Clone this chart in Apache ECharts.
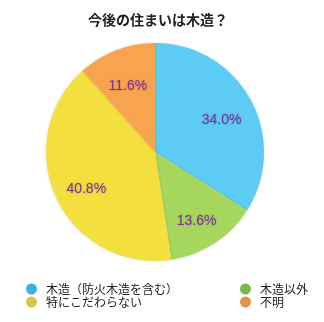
<!DOCTYPE html>
<html>
<head>
<meta charset="utf-8">
<script src="https://cdn.jsdelivr.net/npm/echarts@6/dist/echarts.min.js"></script>
<style>
  html, body { margin: 0; padding: 0; background: #fff; }
  #chart { width: 324px; height: 322px; }
</style>
</head>
<body>
<div id="chart"></div>
<script>
// Survey result: preferred construction for the next home
const categories = ['木造（防火木造を含む）', '木造以外', '特にこだわらない', '不明'];
const shares = [34.0, 13.6, 40.8, 11.6];
const sliceColors = ['#5ccbf6', '#a4d75b', '#f3df3d', '#f8a44f'];
const legendColors = ['#45acdf', '#79b84a', '#d9c73f', '#e59347'];

const FONT = '"Noto Sans CJK JP", "Noto Sans", sans-serif';
const NUM_FONT = '"Liberation Sans", Arial, sans-serif';

const sliceData = categories.map((name, i) => ({
  name,
  value: shares[i],
  itemStyle: { color: sliceColors[i] }
}));

const legendItem = i => ({
  name: categories[i],
  itemStyle: { color: legendColors[i] }
});

const legendBase = {
  orient: 'vertical',
  icon: 'circle',
  itemWidth: 11,
  itemHeight: 11,
  itemGap: 1,
  selectedMode: false,
  textStyle: { fontFamily: FONT, fontSize: 12, lineHeight: 12, color: '#222', padding: [0, 0, 0, 4] }
};

const chart = echarts.init(document.getElementById('chart'), null, { renderer: 'canvas' });
chart.setOption({
  animation: false,
  title: {
    text: '今後の住まいは木造？',
    left: 153,
    textAlign: 'center',
    top: 8,
    textStyle: { fontFamily: FONT, fontSize: 14, fontWeight: 'bold', color: '#222' }
  },
  legend: [
    Object.assign({}, legendBase, { left: 21, top: 278, data: [legendItem(0), legendItem(2)] }),
    Object.assign({}, legendBase, { left: 235, top: 278, data: [legendItem(1), legendItem(3)] })
  ],
  series: [
    {
      type: 'pie',
      center: [155, 152],
      radius: [0, 109],
      startAngle: 90,
      clockwise: true,
      silent: true,
      data: sliceData,
      itemStyle: {
        borderWidth: 0,
        shadowBlur: 3,
        shadowColor: 'rgba(0,0,0,0.15)'
      },
      label: { show: false },
      labelLine: { show: false }
    },
    {
      // transparent ring used only to place the percentage labels
      type: 'pie',
      center: [155, 157],
      radius: [0, 146],
      startAngle: 90,
      clockwise: true,
      silent: true,
      legendHoverLink: false,
      data: categories.map((name, i) => ({ name, value: shares[i] })),
      itemStyle: { color: 'rgba(0,0,0,0)', borderWidth: 0 },
      label: {
        show: true,
        position: 'inside',
        formatter: p => p.value.toFixed(1) + '%',
        fontFamily: NUM_FONT,
        fontSize: 14,
        color: '#7d3298',
        textShadowColor: 'rgba(90,20,110,0.35)',
        textShadowBlur: 2
      },
      labelLine: { show: false },
      emphasis: { disabled: true }
    }
  ]
});
</script>
</body>
</html>
